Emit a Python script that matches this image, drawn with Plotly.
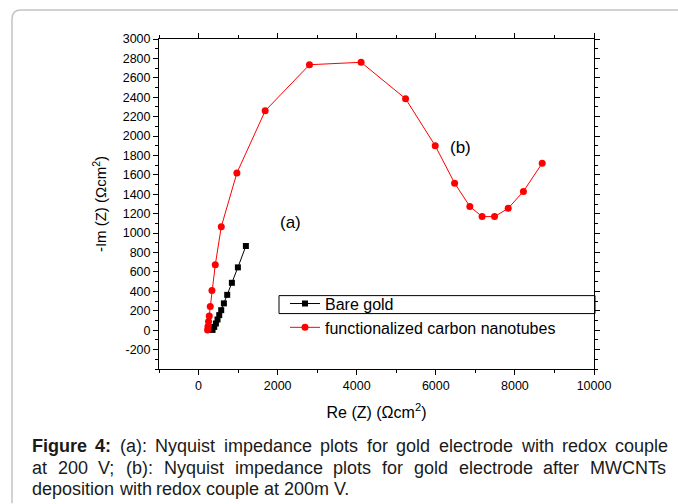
import plotly.graph_objects as go

# ---------------- data ----------------
gold_re = [354, 396, 439, 480, 523, 573, 641, 725, 843, 995, 1197]
gold_im = [3, 34, 69, 110, 155, 206, 276, 364, 488, 647, 867]

cnt_re = [228, 238, 253, 271, 296, 339, 423, 575, 970, 1685, 2805, 4110,
          5235, 5985, 6475, 6860, 7170, 7485, 7830, 8215, 8690]
cnt_im = [3, 37, 89, 147, 243, 408, 673, 1065, 1620, 2260, 2735, 2760,
          2385, 1900, 1515, 1275, 1170, 1170, 1255, 1430, 1720]

series_names = ["Bare gold", "functionalized carbon nanotubes"]
x_ticks = [0, 2000, 4000, 6000, 8000, 10000]
x_tick_text = ["0", "2000", "4000", "6000", "8000", "10000"]
y_ticks = list(range(-200, 3001, 200))
y_tick_text = [str(v) for v in y_ticks]

caption_lines = [
    "Figure 4: (a): Nyquist impedance plots for gold electrode with redox couple",
    "at 200 V; (b): Nyquist impedance plots for gold electrode after MWCNTs",
    "deposition with redox couple at 200m V.",
]

# ---------------- layout helpers ----------------
W, H = 678, 504
L, R, T, B = 159, 594, 39, 369.5
FONT = "Liberation Sans, Arial, sans-serif"


def px2x(px):
    return (px - L) / (R - L)


def py2y(py):
    return (B - py) / (B - T)


fig = go.Figure()
fig.add_trace(go.Scatter(
    x=gold_re, y=gold_im, mode="lines+markers", name=series_names[0],
    line=dict(color="black", width=1),
    marker=dict(symbol="square", size=6, color="black"),
))
fig.add_trace(go.Scatter(
    x=cnt_re, y=cnt_im, mode="lines+markers", name=series_names[1],
    line=dict(color="#ff0000", width=1),
    marker=dict(symbol="circle", size=7, color="#ff0000"),
))

axis_common = dict(
    showline=True, linecolor="black", linewidth=1, mirror="allticks",
    ticks="outside", ticklen=5, tickwidth=1, tickcolor="black",
    showgrid=False, zeroline=False,
    tickfont=dict(family=FONT, size=12.5, color="black"),
)

fig.update_xaxes(
    range=[-1000, 10000], tickmode="array", tickvals=x_ticks, ticktext=x_tick_text,
    minor=dict(dtick=1000, tick0=0, ticks="outside", ticklen=3, tickcolor="black", showgrid=False),
    title=dict(text="Re (Z) (\u03a9cm<sup>2</sup>)", font=dict(family=FONT, size=16, color="black"), standoff=14),
    **axis_common,
)
fig.update_yaxes(
    range=[-400, 3000], tickmode="array", tickvals=y_ticks, ticktext=y_tick_text,
    minor=dict(dtick=100, tick0=0, ticks="outside", ticklen=3, tickcolor="black", showgrid=False),
    title=dict(text="-Im (Z) (\u03a9cm<sup>2</sup>)", font=dict(family=FONT, size=15, color="black"), standoff=12),
    **axis_common,
)

annotations = [
    dict(x=2320, y=1105, xref="x", yref="y", text="(a)", showarrow=False,
         font=dict(family=FONT, size=17, color="black")),
    dict(x=6625, y=1879, xref="x", yref="y", text="(b)", showarrow=False,
         font=dict(family=FONT, size=17, color="black")),
]

# caption, justified word by word
REG = {" ": 278, "(": 333, ")": 333, ":": 278, ";": 278, ".": 278,
       "a": 556, "b": 556, "c": 500, "d": 556, "e": 556, "f": 278, "g": 556,
       "h": 556, "i": 222, "l": 222, "m": 833, "n": 556, "o": 556, "p": 556,
       "q": 556, "r": 333, "s": 500, "t": 278, "u": 556, "w": 722, "x": 500,
       "y": 500, "N": 722, "V": 667, "M": 833, "W": 944, "C": 722, "T": 611}
BOLD = {"F": 611, "i": 278, "g": 611, "u": 611, "r": 389, "e": 556, ":": 333}


def wwidth(word, size, bold=False):
    tbl = BOLD if bold else REG
    tot = 0
    for ch in word:
        if ch.isdigit():
            tot += 556
        else:
            tot += tbl.get(ch, 556)
    return tot * size / 1000.0


CAP_SIZE = 18
cap_left, cap_right = 31, 667
line_ys = [447, 469, 490]
for li, line in enumerate(caption_lines):
    words = line.split(" ")
    bold_flags = [li == 0 and wi < 2 for wi in range(len(words))]
    widths = [wwidth(w, CAP_SIZE, b) for w, b in zip(words, bold_flags)]
    justify = li < len(caption_lines) - 1
    if justify:
        gap = (cap_right - cap_left - sum(widths)) / (len(words) - 1)
    else:
        gap = REG[" "] * CAP_SIZE / 1000.0
    xpos = cap_left
    for w, b, ww in zip(words, bold_flags, widths):
        annotations.append(dict(
            x=px2x(xpos - 1), y=py2y(line_ys[li]), xref="paper", yref="paper",
            xanchor="left", yanchor="middle", showarrow=False,
            text=("<b>%s</b>" % w) if b else w,
            font=dict(family=FONT, size=CAP_SIZE, color="#1a1a1a"),
        ))
        xpos += ww + gap

shapes = [
    # legend frame (around first entry only, as in the original)
    dict(type="rect", xref="paper", yref="paper",
         x0=px2x(279), x1=px2x(595), y0=py2y(314), y1=py2y(296),
         line=dict(color="black", width=1), fillcolor="rgba(0,0,0,0)"),
    # page frame (left + top with rounded corner)
    dict(type="path", xref="paper", yref="paper",
         path="M %f,%f L %f,%f Q %f,%f %f,%f L %f,%f" % (
             px2x(12), py2y(504), px2x(12), py2y(19),
             px2x(12), py2y(10), px2x(21), py2y(10),
             px2x(678), py2y(10)),
         line=dict(color="#c4c4c4", width=1.5)),
]

fig.update_layout(
    width=W, height=H,
    margin=dict(l=L, r=W - R, t=T, b=H - B, pad=0),
    paper_bgcolor="white", plot_bgcolor="white",
    font=dict(family=FONT, color="black"),
    showlegend=True,
    legend=dict(x=px2x(285), y=py2y(287), xanchor="left", yanchor="top",
                bgcolor="rgba(0,0,0,0)", borderwidth=0,
                font=dict(family=FONT, size=16, color="black"),
                tracegroupgap=0),
    annotations=annotations,
    shapes=shapes,
)

fig.write_html("out.html")
